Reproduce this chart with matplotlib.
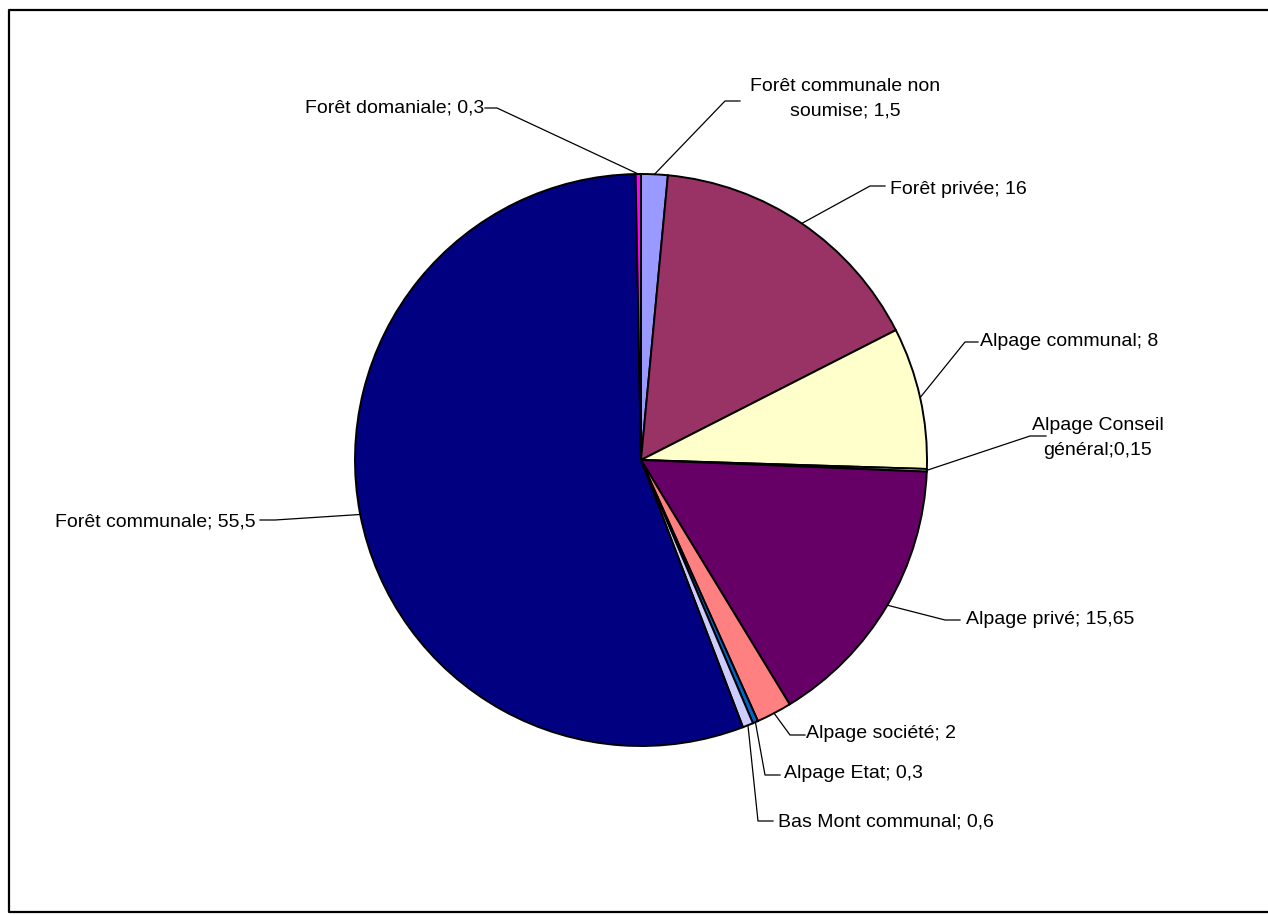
import matplotlib
matplotlib.use("Agg")
import matplotlib.pyplot as plt
import numpy as np

plt.rcParams["font.family"] = ["Liberation Sans", "DejaVu Sans"]

# ── données ──
labels = ["Forêt communale non\nsoumise; 1,5", "Forêt privée; 16", "Alpage communal; 8",
          "Alpage Conseil\ngénéral;0,15", "Alpage privé; 15,65", "Alpage société; 2",
          "Alpage Etat; 0,3", "Bas Mont communal; 0,6", "Forêt communale; 55,5",
          "Forêt domaniale; 0,3"]
values = [1.5, 16, 8, 0.15, 15.65, 2, 0.3, 0.6, 55.5, 0.3]
colors = ["#9999FF", "#993366", "#FFFFCC", "#CCFFFF", "#660066", "#FF8080",
          "#0066CC", "#CCCCFF", "#000080", "#FF00FF"]

W, H = 1268, 917
CX, CY, R = 641, H - 460, 286

# position du coude et du texte (pixels, y depuis le haut)
elbows = [(725, 101, 740), (870, 186, 885), (965, 342, 978), (1030, 436, 1046),
          (945, 620, 960), (790, 735, 805), (765, 775, 780), (758, 821, 773),
          (275, 520, 260), (497, 108, 485)]
text_pos = [(845, 99, "center"), (890, 190, "left"), (980, 342, "left"),
            (1098, 438, "center"), (966, 620, "left"), (806, 733, "left"),
            (784, 773, "left"), (778, 822, "left"), (256, 522, "right"),
            (484, 108, "right")]

fig = plt.figure(figsize=(W / 100, H / 100), dpi=100)
ax = fig.add_axes([0, 0, 1, 1])

wedges, _ = ax.pie(values, colors=colors, startangle=90, counterclock=False,
                   center=(CX, CY), radius=R,
                   wedgeprops=dict(edgecolor="black", linewidth=1.4))
ax.set_xlim(0, W)
ax.set_ylim(0, H)
ax.set_aspect("equal")
ax.axis("off")

for w, (ex, ey, hx), (tx, ty, ha) in zip(wedges, elbows, text_pos):
    ang = np.deg2rad((w.theta1 + w.theta2) / 2)
    px, py = CX + R * np.cos(ang), CY + R * np.sin(ang)
    ax.plot([px, ex, hx], [py, H - ey, H - ey], color="black", lw=0.9)

for lab, (tx, ty, ha) in zip(labels, text_pos):
    ax.text(tx, H - ty, lab, ha=ha, va="center", fontsize=14,
            linespacing=1.6, color="black")

# cadre
ax.plot([1268, 9, 9, 1268], [H - 10, H - 10, H - 912, H - 912],
        color="black", lw=1.6, clip_on=False)

fig.savefig("out.png", dpi=100, facecolor="white")
